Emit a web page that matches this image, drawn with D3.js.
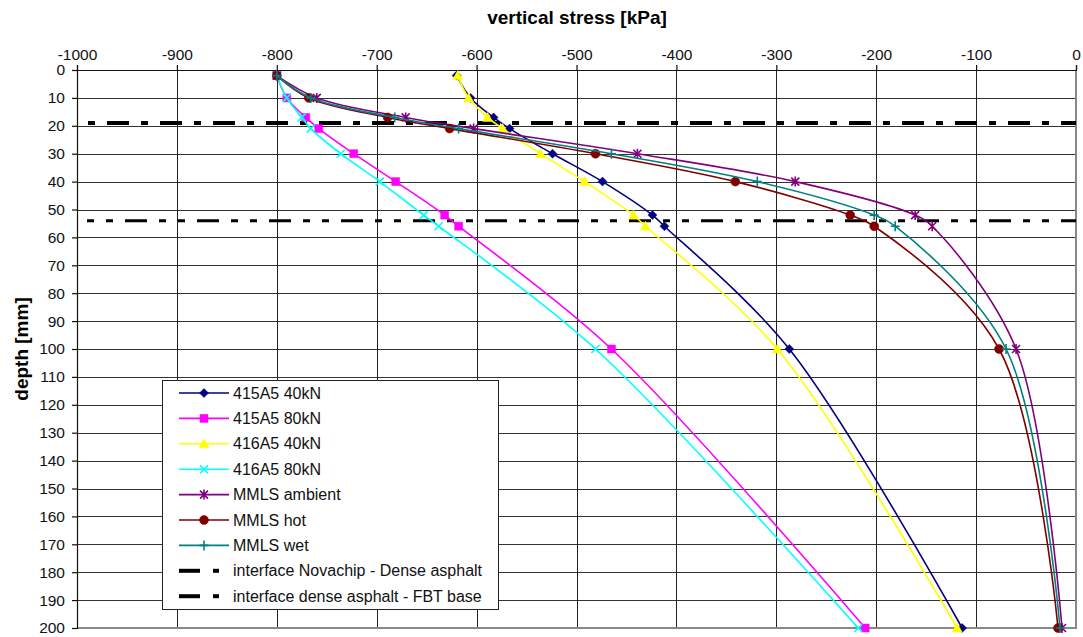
<!DOCTYPE html>
<html>
<head>
<meta charset="utf-8">
<script src="https://cdn.jsdelivr.net/npm/d3@7"></script>
<style>
  body { margin: 0; background: #fff; }
  text { font-family: "Liberation Sans", Arial, sans-serif; }
</style>
</head>
<body>
<script>
// depths where the stresses were measured [mm]
var depths = [2, 10, 17, 21, 30, 40, 52, 56, 100, 200];

// vertical stress [kPa] per series, same order as depths
var s415A5_40 = [-620, -606, -583, -567, -524, -474, -424, -412, -287, -114];
var s415A5_80 = [-800, -790, -771, -758, -723, -681, -632, -618, -465, -211];
var s416A5_40 = [-619, -608, -589, -574, -536, -492, -443, -431, -299, -119];
var s416A5_80 = [-800, -790, -775, -766, -736, -697, -653, -638, -481, -218];
var mmlsAmbient = [-800, -760, -671, -603, -439, -281, -161, -144, -60, -14];
var mmlsHot = [-800, -768, -689, -627, -481, -341, -226, -202, -77, -18];
var mmlsWet = [-800, -766, -682, -618, -465, -319, -202, -181, -70, -16];

// layer interfaces [mm]
var interfaceDepths = [19, 54];
var interfaceNames = ["interface Novachip - Dense asphalt", "interface dense asphalt - FBT base"];

var xTicks = [-1000, -900, -800, -700, -600, -500, -400, -300, -200, -100, 0];
var yTicks = [0, 10, 20, 30, 40, 50, 60, 70, 80, 90, 100, 110, 120, 130, 140, 150, 160, 170, 180, 190, 200];

var W = 1083, H = 637;
var plot = {left: 77, right: 1076, top: 70, bottom: 628};

// marker shapes (relative to the point)
var markers = {
    diamond: {d: "M0,-4.5L4.5,0L0,4.5L-4.5,0Z", fill: true},
    square: {d: "M-4,-4H4V4H-4Z", fill: true},
    triangle: {d: "M0,-5L5,4L-5,4Z", fill: true},
    cross: {d: "M-4,-4L4,4M-4,4L4,-4", fill: false},
    star: {d: "M-4,-4L4,4M-4,4L4,-4M0,-5V5", fill: false},
    circle: {d: "M4.5,0A4.5,4.5 0 1,1 -4.5,0A4.5,4.5 0 1,1 4.5,0Z", fill: true},
    plus: {d: "M-4.5,0H4.5M0,-5V5", fill: false}
};

var series = [
    {name: "415A5 40kN", values: s415A5_40, color: "#000080", marker: "diamond"},
    {name: "415A5 80kN", values: s415A5_80, color: "#FF00FF", marker: "square"},
    {name: "416A5 40kN", values: s416A5_40, color: "#FFFF00", marker: "triangle"},
    {name: "416A5 80kN", values: s416A5_80, color: "#00FFFF", marker: "cross"},
    {name: "MMLS ambient", values: mmlsAmbient, color: "#800080", marker: "star"},
    {name: "MMLS hot", values: mmlsHot, color: "#800000", marker: "circle"},
    {name: "MMLS wet", values: mmlsWet, color: "#008080", marker: "plus"}
];
var interfaceStyles = [
    {dash: "22,12,7,12", width: 4, offset: 23},
    {dash: "22,12,7,12,7,12", width: 3, offset: 24}
];

var svg = d3.select("body").append("svg")
    .attr("width", W)
    .attr("height", H);

var x = d3.scaleLinear().domain([-1000, 0]).range([plot.left, plot.right]);
var y = d3.scaleLinear().domain([0, 200]).range([plot.top, plot.bottom]);

// grid
svg.append("g").selectAll("line").data(yTicks.slice(1)).enter().append("line")
    .attr("x1", plot.left).attr("x2", plot.right)
    .attr("y1", function (d) { return Math.round(y(d)) + 0.5; })
    .attr("y2", function (d) { return Math.round(y(d)) + 0.5; })
    .attr("stroke", "#333").attr("stroke-width", 1);
svg.append("g").selectAll("line").data(xTicks.slice(1, -1)).enter().append("line")
    .attr("y1", plot.top).attr("y2", plot.bottom)
    .attr("x1", function (d) { return Math.round(x(d)) + 0.5; })
    .attr("x2", function (d) { return Math.round(x(d)) + 0.5; })
    .attr("stroke", "#222").attr("stroke-width", 1);

// right and bottom frame
svg.append("path")
    .attr("d", "M" + plot.right + "," + plot.top + "V" + plot.bottom + "H" + plot.left)
    .attr("fill", "none").attr("stroke", "#888").attr("stroke-width", 2);

// axes
var plain = function (d) { return String(d); };
var xAxis = svg.append("g")
    .attr("transform", "translate(0," + plot.top + ")")
    .call(d3.axisTop(x).tickValues(xTicks).tickFormat(plain).tickSize(5).tickSizeOuter(5).tickPadding(5));
var yAxis = svg.append("g")
    .attr("transform", "translate(" + plot.left + ",0)")
    .call(d3.axisLeft(y).tickValues(yTicks).tickFormat(plain).tickSize(5).tickSizeOuter(5).tickPadding(7));
[xAxis, yAxis].forEach(function (a) {
    a.selectAll("path, line").attr("stroke", "#111").attr("stroke-width", 1.2);
    a.selectAll("text").attr("fill", "#111")
        .style("font-size", "15.5px")
        .style("font-family", '"Liberation Sans", Arial, sans-serif');
});

// axis titles
svg.append("text")
    .attr("x", 577).attr("y", 24)
    .attr("text-anchor", "middle")
    .style("font-weight", "bold").style("font-size", "19px")
    .text("vertical stress [kPa]");
svg.append("text")
    .attr("transform", "translate(28,349)rotate(-90)")
    .attr("text-anchor", "middle")
    .style("font-weight", "bold").style("font-size", "19px")
    .text("depth [mm]");

// interface lines
interfaceDepths.forEach(function (d, i) {
    var st = interfaceStyles[i];
    svg.append("line")
        .attr("x1", plot.left).attr("x2", plot.right)
        .attr("y1", y(d)).attr("y2", y(d))
        .attr("stroke", "#000").attr("stroke-width", st.width)
        .attr("stroke-dasharray", st.dash)
        .attr("stroke-dashoffset", st.offset);
});

// series
var line = d3.line()
    .x(function (d) { return x(d[0]); })
    .y(function (d) { return y(d[1]); })
    .curve(d3.curveCatmullRom.alpha(0.5));

function drawMarker(g, m, color, cx, cy) {
    var mk = markers[m];
    g.append("path")
        .attr("d", mk.d)
        .attr("transform", "translate(" + cx + "," + cy + ")")
        .attr("fill", mk.fill ? color : "none")
        .attr("stroke", color)
        .attr("stroke-width", mk.fill ? 0.5 : 1.6);
}

series.forEach(function (s) {
    var pts = s.values.map(function (v, i) { return [v, depths[i]]; });
    var g = svg.append("g");
    g.append("path")
        .datum(pts)
        .attr("d", line)
        .attr("fill", "none")
        .attr("stroke", s.color)
        .attr("stroke-width", 1.6);
    pts.forEach(function (p) {
        drawMarker(g, s.marker, s.color, x(p[0]), y(p[1]));
    });
});

// legend
var legend = svg.append("g");
legend.append("rect")
    .attr("x", 162.5).attr("y", 380.5)
    .attr("width", 336).attr("height", 229)
    .attr("fill", "#fff").attr("stroke", "#222").attr("stroke-width", 1);

var rows = series.map(function (s) { return {name: s.name, s: s}; })
    .concat(interfaceNames.map(function (n, i) { return {name: n, iface: interfaceStyles[i]}; }));

rows.forEach(function (r, i) {
    var cy = 393 + i * 25.4;
    var row = legend.append("g");
    if (r.s) {
        row.append("line")
            .attr("x1", 179).attr("x2", 229).attr("y1", cy).attr("y2", cy)
            .attr("stroke", r.s.color).attr("stroke-width", 1.6);
        drawMarker(row, r.s.marker, r.s.color, 204, cy);
    } else {
        row.append("line")
            .attr("x1", 179).attr("x2", 200).attr("y1", cy).attr("y2", cy)
            .attr("stroke", "#000").attr("stroke-width", 4);
        row.append("line")
            .attr("x1", 213).attr("x2", 219).attr("y1", cy).attr("y2", cy)
            .attr("stroke", "#000").attr("stroke-width", 4);
    }
    row.append("text")
        .attr("x", 233).attr("y", cy + 5.5)
        .style("font-size", "16px")
        .attr("fill", "#111")
        .text(r.name);
});
</script>
</body>
</html>
